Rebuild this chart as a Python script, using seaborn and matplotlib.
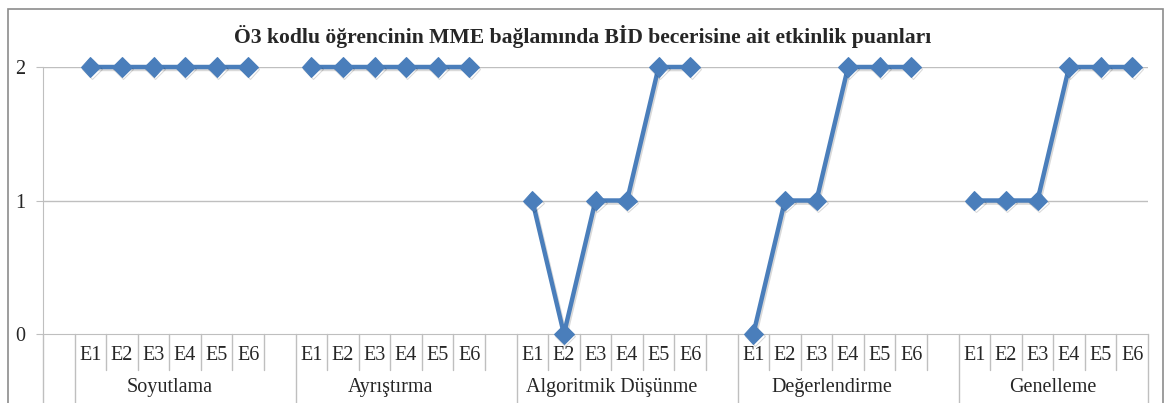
import numpy as np
import pandas as pd
import matplotlib
matplotlib.use("Agg")
import matplotlib.pyplot as plt
import matplotlib.patheffects as pe
import seaborn as sns

# Veriler
groups = ["Soyutlama", "Ayrıştırma", "Algoritmik Düşünme", "Değerlendirme", "Genelleme"]
items = ["E1", "E2", "E3", "E4", "E5", "E6"]
soyutlama = [2, 2, 2, 2, 2, 2]
ayristirma = [2, 2, 2, 2, 2, 2]
algoritmik = [1, 0, 1, 1, 2, 2]
degerlendirme = [0, 1, 1, 2, 2, 2]
genelleme = [1, 1, 1, 2, 2, 2]
scores = [soyutlama, ayristirma, algoritmik, degerlendirme, genelleme]
y_ticks = [0, 1, 2]
title = "Ö3 kodlu öğrencinin MME bağlamında BİD becerisine ait etkinlik puanları"

# Excel tarzı kategori ekseni: başta bir boş slot, gruplar arasında bir boş slot
rows = []
for g, (grp, vals) in enumerate(zip(groups, scores)):
    for j, (it, v) in enumerate(zip(items, vals)):
        rows.append({"grup": grp, "etkinlik": it, "slot": 1 + 7 * g + j, "puan": v})
df = pd.DataFrame(rows)
df["x"] = df["slot"] + 0.5
n_slots = int(df["slot"].max()) + 1

sns.set_style("white")
plt.rcParams["font.family"] = ["Liberation Serif", "DejaVu Serif"]

blue = "#4A7EBB"
gray = "#BFBFBF"

fig = plt.figure(figsize=(11.66, 4.03), dpi=100)
ax = fig.add_axes([43 / 1166, 1 - 334 / 403, (1148 - 43) / 1166, (334 - 67) / 403])

sns.lineplot(data=df, x="x", y="puan", units="grup", estimator=None,
             color=blue, linewidth=3.2, marker="D", markersize=10,
             markeredgecolor=blue, ax=ax, legend=False, clip_on=False, zorder=5)
for ln in ax.lines:
    ln.set_path_effects([pe.SimpleLineShadow(offset=(1, -1.5), alpha=0.15),
                         pe.Normal()])

ax.set_xlim(0, n_slots)
ax.set_ylim(0, 2)
ax.set_yticks(y_ticks)
ax.set_yticklabels([str(t) for t in y_ticks], fontsize=14.5)
ax.set_xticks([])
ax.set_xlabel("")
ax.set_ylabel("")
for yv in y_ticks[1:]:
    ax.axhline(yv, color=gray, linewidth=1, zorder=1)
for side in ["top", "right"]:
    ax.spines[side].set_visible(False)
ax.spines["left"].set_color(gray)
ax.spines["bottom"].set_color(gray)
ax.spines["left"].set_bounds(0, 2)
ax.tick_params(axis="y", direction="out", length=5, color=gray, pad=8, left=True)

# Çok düzeyli kategori etiketleri
trans = ax.get_xaxis_transform()
bounds = [0, 1] + [1 + 7 * g for g in range(1, len(groups))] + [n_slots]
for s in range(n_slots + 1):
    ymin = -0.258 if s in bounds else -0.135
    ax.plot([s, s], [0, ymin], color=gray, linewidth=1, transform=trans, clip_on=False)
for _, r in df.iterrows():
    ax.text(r["x"], -0.082, r["etkinlik"], transform=trans, ha="center", va="center",
            fontsize=14.5)
for g, grp in enumerate(groups):
    cx = 1 + 7 * g + 3
    ax.text(cx, -0.199, grp, transform=trans, ha="center", va="center", fontsize=14.5)

fig.text(0.5, 1 - 36 / 403, title, ha="center", va="center", fontsize=15.6,
         fontweight="bold")

border = plt.Rectangle((8 / 1166, -0.05), (1163 - 8) / 1166, 1.05 - 9 / 403,
                       transform=fig.transFigure, fill=False, edgecolor="#8C8C8C",
                       linewidth=1.2)
fig.patches.append(border)

fig.savefig("out.png", dpi=100)
